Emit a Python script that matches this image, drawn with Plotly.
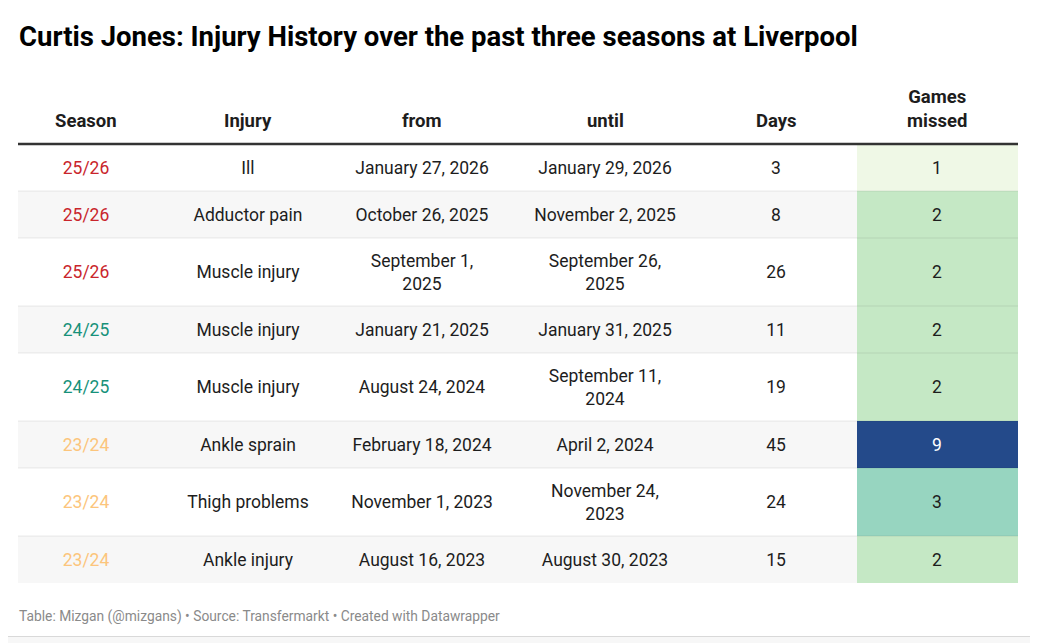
"""
Curtis Jones injury history table (Datawrapper style) rebuilt in Plotly
"""

import plotly.graph_objects as go

# ====================================================
# Data
# ====================================================

columns = ["Season", "Injury", "from", "until", "Days", "Games<br>missed"]

seasons = ["25/26", "25/26", "25/26", "24/25", "24/25", "23/24", "23/24", "23/24"]

injuries = [
    "Ill", "Adductor pain", "Muscle injury", "Muscle injury",
    "Muscle injury", "Ankle sprain", "Thigh problems", "Ankle injury",
]

date_from = [
    "January 27, 2026", "October 26, 2025", "September 1,<br>2025",
    "January 21, 2025", "August 24, 2024", "February 18, 2024",
    "November 1, 2023", "August 16, 2023",
]

date_until = [
    "January 29, 2026", "November 2, 2025", "September 26,<br>2025",
    "January 31, 2025", "September 11,<br>2024", "April 2, 2024",
    "November 24,<br>2023", "August 30, 2023",
]

days = [3, 8, 26, 11, 19, 45, 24, 15]

games_missed = [1, 2, 2, 2, 2, 9, 3, 2]

season_colors = {"25/26": "#c9252c", "24/25": "#17917a", "23/24": "#fcc57c"}

# ====================================================
# Layout helpers (pixel space of the reference)
# ====================================================

W, H = 1038, 643
PAGE_OFFSET = 8          # the browser body margin
LEFT, RIGHT = 18, 1018
col_centers = [86, 248, 422, 605, 776, 937]
games_x0 = 857
header_bottom = 144
TEXT_NUDGE = 2

FONT = "Roboto, 'Open Sans', sans-serif"
TEXT = "#1d1d1d"

lines_per_row = [
    max(str(v).count("<br>") + 1 for v in row)
    for row in zip(seasons, injuries, date_from, date_until)
]
row_heights = [26 + 21 * n for n in lines_per_row]

edges = [header_bottom]
for h in row_heights:
    edges.append(edges[-1] + h)
row_mid = [(a + b) / 2 + TEXT_NUDGE for a, b in zip(edges[:-1], edges[1:])]

fig = go.Figure()

# ====================================================
# Games missed colour column
# ====================================================

fig.add_trace(
    go.Heatmap(
        z=[[g] for g in games_missed],
        x=[games_x0, RIGHT],
        y=edges,
        zmin=1,
        zmax=9,
        colorscale=[
            [0.0, "#eff8e6"],
            [0.125, "#c5e8c5"],
            [0.25, "#97d5c0"],
            [0.6, "#4f8fb0"],
            [1.0, "#244a8a"],
        ],
        showscale=False,
        hoverinfo="skip",
    )
)

# ====================================================
# Cell text
# ====================================================

body_cols = [
    (seasons, [season_colors[s] for s in seasons]),
    (injuries, TEXT),
    (date_from, TEXT),
    (date_until, TEXT),
    ([str(d) for d in days], TEXT),
    ([str(g) for g in games_missed],
     ["#ffffff" if g >= 6 else TEXT for g in games_missed]),
]

for cx, (vals, color) in zip(col_centers, body_cols):

    fig.add_trace(
        go.Scatter(
            x=[cx] * len(vals),
            y=row_mid,
            mode="text",
            text=vals,
            textposition="middle center",
            textfont=dict(family=FONT, size=17.5, color=color),
            hoverinfo="skip",
        )
    )

# ====================================================
# Card, row backgrounds, separators, header rule
# ====================================================

shapes = [
    dict(
        type="rect", x0=5.5, x1=1031.5, y0=6, y1=636.5,
        fillcolor="#ffffff", line=dict(color="#d9d9d9", width=1),
        layer="below",
    )
]

for i in range(len(row_heights)):
    if i % 2 == 1:
        shapes.append(
            dict(
                type="rect", x0=LEFT, x1=games_x0,
                y0=edges[i], y1=edges[i + 1],
                fillcolor="#f7f7f7", line=dict(width=0), layer="below",
            )
        )

for e in edges[1:-1]:
    shapes.append(
        dict(
            type="line", x0=LEFT, x1=RIGHT, y0=e, y1=e,
            line=dict(color="rgba(0,0,0,0.08)", width=1), layer="above",
        )
    )

shapes.append(
    dict(
        type="line", x0=LEFT, x1=RIGHT, y0=header_bottom, y1=header_bottom,
        line=dict(color="#333333", width=2.5), layer="above",
    )
)

# ====================================================
# Header, title, footer
# ====================================================

annotations = [
    dict(
        x=cx, y=header_bottom - 10, text=f"<b>{c}</b>",
        xanchor="center", yanchor="bottom", showarrow=False,
        font=dict(family=FONT, size=18.5, color=TEXT),
    )
    for cx, c in zip(col_centers, columns)
]

annotations.append(
    dict(
        x=LEFT - 1, y=36,
        text="<b>Curtis Jones: Injury History over the past three seasons at Liverpool</b>",
        xanchor="left", yanchor="middle", showarrow=False,
        font=dict(family=FONT, size=27.5, color="#000000"),
    )
)

annotations.append(
    dict(
        x=LEFT - 1, y=616,
        text="Table: Mizgan (@mizgans) • Source: Transfermarkt • Created with Datawrapper",
        xanchor="left", yanchor="middle", showarrow=False,
        font=dict(family=FONT, size=13.8, color="#8a8a8a"),
    )
)

fig.update_layout(
    width=W - PAGE_OFFSET,
    height=H - PAGE_OFFSET,
    margin=dict(l=0, r=0, t=0, b=0),
    paper_bgcolor="#f7f7f7",
    plot_bgcolor="rgba(0,0,0,0)",
    showlegend=False,
    shapes=shapes,
    annotations=annotations,
)

fig.update_xaxes(range=[PAGE_OFFSET, W], visible=False, fixedrange=True)
fig.update_yaxes(range=[H, PAGE_OFFSET], visible=False, fixedrange=True)

fig.write_html("out.html")
